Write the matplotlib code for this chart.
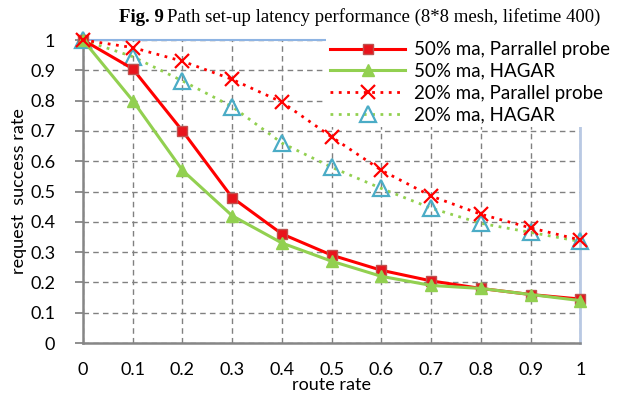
import numpy as np
import matplotlib.pyplot as plt

route_rate = [0, 0.1, 0.2, 0.3, 0.4, 0.5, 0.6, 0.7, 0.8, 0.9, 1]
pp_50 = [1, 0.905, 0.70, 0.48, 0.36, 0.29, 0.24, 0.205, 0.18, 0.16, 0.145]
hagar_50 = [1, 0.80, 0.57, 0.42, 0.33, 0.27, 0.22, 0.19, 0.18, 0.16, 0.14]
pp_20 = [1, 0.975, 0.93, 0.87, 0.795, 0.68, 0.57, 0.485, 0.425, 0.38, 0.34]
hagar_20 = [1, 0.945, 0.865, 0.78, 0.66, 0.58, 0.51, 0.445, 0.395, 0.365, 0.335]
tick_labels = ["0", "0.1", "0.2", "0.3", "0.4", "0.5", "0.6", "0.7", "0.8", "0.9", "1"]

plt.rcParams["font.family"] = ["Lato", "DejaVu Sans"]

fig = plt.figure(figsize=(6.24, 4), dpi=100)
ax = fig.add_axes([0.133, 0.1425, 0.797, 0.7575])

ax.plot(route_rate, pp_50, color="#FF0000", lw=2.2, marker="s", ms=7,
        mfc="#E8141C", mec="#C0504D", label="50% ma, Parrallel probe", zorder=4, clip_on=False)
ax.plot(route_rate, hagar_50, color="#92D050", lw=2.2, marker="^", ms=8,
        mfc="#92D050", mec="#92D050", label="50% ma, HAGAR", zorder=4, clip_on=False)
ax.plot(route_rate, pp_20, color="#FF0000", lw=2, ls=(0, (1, 2)), marker="x", ms=10,
        mew=1.6, mec="#FF0000", label="20% ma, Parallel probe", zorder=4, clip_on=False)
ax.plot(route_rate, hagar_20, color="#92D050", lw=2, ls=(0, (1, 2)), marker="^", ms=11,
        mfc="none", mec="#4BACC6", mew=1.6, label="20% ma, HAGAR", zorder=3, clip_on=False)

ax.set_xlim(0, 1)
ax.set_ylim(0, 1)
ax.set_xticks(route_rate)
ax.set_xticklabels(tick_labels)
ax.set_yticks(np.arange(0, 1.01, 0.1))
ax.set_yticklabels(tick_labels)
ax.tick_params(axis="x", length=0, pad=14, labelsize=13)
ax.tick_params(axis="y", length=6, width=1.3, pad=14, labelsize=13, color="#868686")
ax.grid(True, ls=(0, (4, 3)), color="#808080", lw=1.0)

for s in ["left", "bottom"]:
    ax.spines[s].set_color("#868686")
    ax.spines[s].set_linewidth(1.8)
ax.spines["top"].set_color("#8EB4E3")
ax.spines["top"].set_linewidth(1.5)
ax.spines["right"].set_color("#B9C9E3")
ax.spines["right"].set_linewidth(2)
ax.set_axisbelow(True)

ax.set_xlabel("route rate", fontsize=13, labelpad=-1)
ax.set_ylabel("request  success rate", fontsize=13, labelpad=2)

leg = ax.legend(loc="upper right", bbox_to_anchor=(0.998, 0.93), bbox_transform=fig.transFigure,
                fontsize=13.5, frameon=True, fancybox=False, edgecolor="none", framealpha=1,
                handlelength=4.0, handletextpad=0.45, labelspacing=0.25, borderpad=0.2)
leg.set_zorder(10)

# title: bold "Fig. 9" followed by regular text
t1 = fig.text(0.19, 0.957, "Fig. 9", ha="left", va="center", fontsize=13.5,
              family="Liberation Serif", weight="bold")
fig.canvas.draw()
bb = t1.get_window_extent()
x_next = (bb.x1 + 4) / fig.bbox.width
fig.text(x_next, 0.957, "Path set-up latency performance (8*8 mesh, lifetime 400)",
         ha="left", va="center", fontsize=13.5, family="Liberation Serif")

plt.savefig("out.png", dpi=100)
